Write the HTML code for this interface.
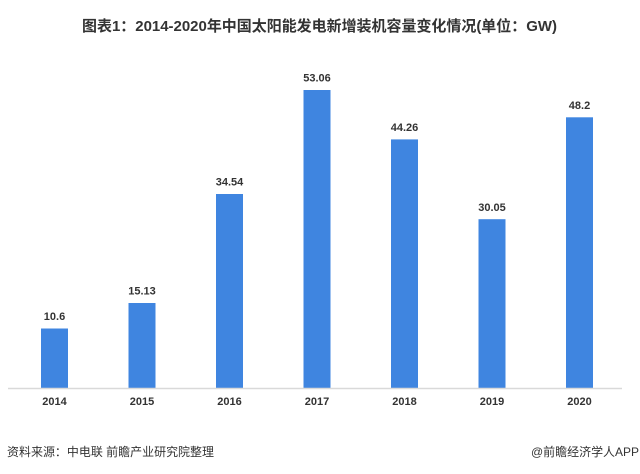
<!DOCTYPE html><html><head><meta charset="utf-8"><style>
body{margin:0;background:#fff;width:640px;height:469px;overflow:hidden;font-family:"Liberation Sans","Noto Sans CJK SC",sans-serif}
</style></head><body>
<svg width="640" height="469" xmlns="http://www.w3.org/2000/svg" font-family="Liberation Sans, Noto Sans CJK SC, sans-serif">
<text x="82" y="31" font-size="15" font-weight="bold" fill="#333" textLength="475" lengthAdjust="spacingAndGlyphs">图表1：2014-2020年中国太阳能发电新增装机容量变化情况(单位：GW)</text>
<g fill="#3f85e0">
<rect x="41" y="328.5" width="27" height="59.5"/>
<rect x="128.5" y="303" width="27" height="85"/>
<rect x="216" y="194" width="27" height="194"/>
<rect x="303.5" y="90" width="27" height="298"/>
<rect x="391" y="139.4" width="27" height="248.6"/>
<rect x="478.5" y="219.2" width="27" height="168.8"/>
<rect x="566" y="117.3" width="27" height="270.7"/>
</g>
<line x1="8" y1="388.5" x2="622" y2="388.5" stroke="#d9d9d9" stroke-width="1.5"/>
<g font-size="11" font-weight="bold" fill="#333" text-anchor="middle">
<text x="54.5" y="320">10.6</text>
<text x="142" y="294.5">15.13</text>
<text x="229.5" y="185.5">34.54</text>
<text x="317" y="81.5">53.06</text>
<text x="404.5" y="131">44.26</text>
<text x="492" y="211">30.05</text>
<text x="579.5" y="109">48.2</text>
<text x="54.5" y="405">2014</text>
<text x="142" y="405">2015</text>
<text x="229.5" y="405">2016</text>
<text x="317" y="405">2017</text>
<text x="404.5" y="405">2018</text>
<text x="492" y="405">2019</text>
<text x="579.5" y="405">2020</text>
</g>
<text x="7" y="456" font-size="12" fill="#333" textLength="207" lengthAdjust="spacingAndGlyphs">资料来源：中电联 前瞻产业研究院整理</text>
<text x="531" y="456" font-size="12" fill="#333" textLength="108" lengthAdjust="spacingAndGlyphs">@前瞻经济学人APP</text>
</svg>
</body></html>
